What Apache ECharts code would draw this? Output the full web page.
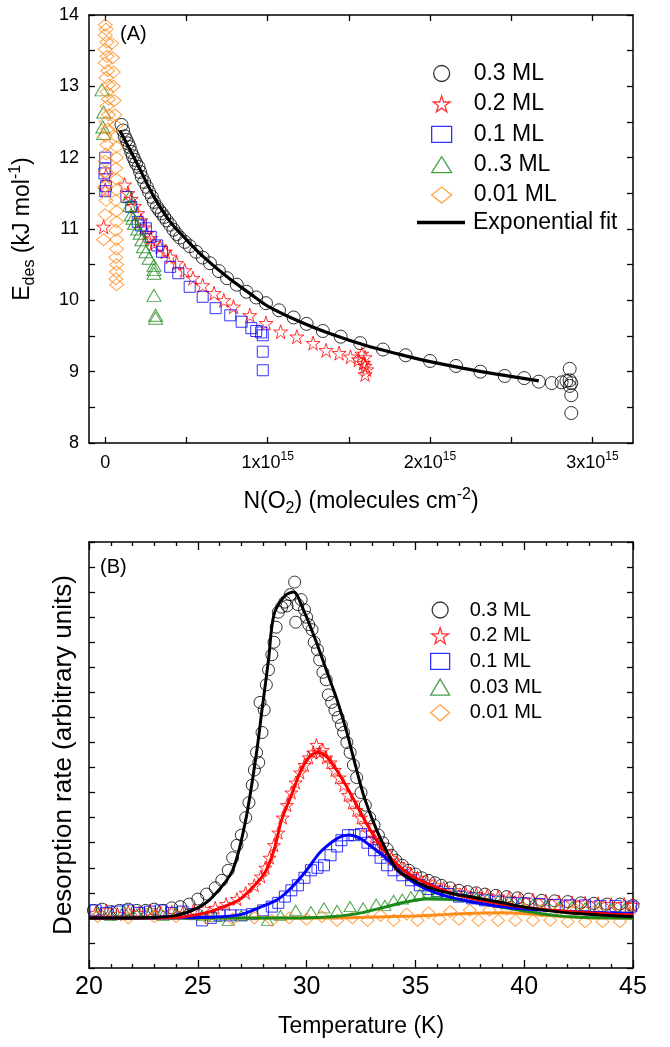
<!DOCTYPE html>
<html>
<head>
<meta charset="utf-8">
<script src="https://cdn.jsdelivr.net/npm/echarts@6/dist/echarts.min.js"></script>
<style>
html,body{margin:0;padding:0;background:#fff;}
#chart{width:670px;height:1047px;}
</style>
</head>
<body>
<div id="chart"></div>
<script>
// ---------- Panel A data: [N(O2) in units of 1e15, Edes kJ/mol] ----------
const a_03 = [[0.10,12.46],[0.11,12.38],[0.12,12.3],[0.13,12.25],[0.14,12.2],[0.15,12.15],[0.16,12.08],[0.17,12.02],[0.18,11.97],[0.19,11.92],[0.205,11.87],[0.215,11.8],[0.225,11.73],[0.24,11.66],[0.256,11.59],[0.27,11.52],[0.287,11.45],[0.30,11.38],[0.318,11.31],[0.333,11.26],[0.348,11.22],[0.363,11.17],[0.379,11.12],[0.40,11.06],[0.42,10.99],[0.44,10.93],[0.46,10.88],[0.49,10.82],[0.52,10.76],[0.56,10.68],[0.60,10.6],[0.645,10.52],[0.70,10.41],[0.75,10.31],[0.81,10.22],[0.87,10.12],[0.93,10.04],[0.99,9.96],[1.07,9.86],[1.16,9.76],[1.24,9.67],[1.34,9.57],[1.45,9.49],[1.57,9.40],[1.71,9.31],[1.85,9.23],[2.0,9.15],[2.16,9.08],[2.31,9.0],[2.46,8.94],[2.58,8.91],[2.67,8.86],[2.75,8.84],[2.81,8.85],[2.84,8.87],[2.86,9.04],[2.86,8.88],[2.87,8.84],[2.86,8.80],[2.87,8.67],[2.87,8.42]];
const a_02 = [[-0.01,11.03],[0.0,11.55],[0.005,11.75],[0.12,11.62],[0.14,11.5],[0.16,11.42],[0.18,11.32],[0.2,11.22],[0.22,11.12],[0.24,11.02],[0.256,10.94],[0.28,10.87],[0.30,10.8],[0.338,10.75],[0.37,10.68],[0.40,10.61],[0.44,10.52],[0.49,10.42],[0.54,10.31],[0.60,10.21],[0.67,10.10],[0.73,10.0],[0.79,9.91],[0.89,9.79],[0.99,9.68],[1.08,9.56],[1.18,9.49],[1.28,9.40],[1.36,9.30],[1.44,9.26],[1.51,9.21],[1.56,9.17],[1.58,9.25],[1.59,9.12],[1.60,9.2],[1.60,9.08],[1.61,9.03],[1.60,8.96]];
const a_01 = [[0.0,12.0],[0.0,11.85],[-0.005,11.78],[0.0,11.53],[0.005,11.6],[0.13,11.45],[0.16,11.31],[0.2,11.1],[0.22,11.05],[0.25,11.01],[0.28,10.89],[0.32,10.77],[0.35,10.68],[0.40,10.47],[0.45,10.38],[0.52,10.19],[0.60,10.05],[0.68,9.89],[0.77,9.79],[0.84,9.70],[0.90,9.61],[0.93,9.57],[0.96,9.55],[0.97,9.51],[0.97,9.28],[0.97,9.02]];
const a_003 = [[-0.02,12.95],[-0.01,12.64],[-0.015,12.43],[-0.01,12.34],[0.15,11.45],[0.15,11.33],[0.16,11.2],[0.17,11.15],[0.18,11.08],[0.2,11.0],[0.215,10.94],[0.225,10.85],[0.235,10.75],[0.25,10.68],[0.27,10.59],[0.30,10.49],[0.30,10.43],[0.30,10.38],[0.30,10.07],[0.31,9.79],[0.31,9.75]];
const a_001 = [[0.0,13.86],[0.005,13.8],[0.0,13.72],[0.01,13.62],[0.0,13.52],[0.01,13.42],[0.0,13.33],[0.015,13.22],[0.005,13.12],[0.02,13.02],[0.01,12.92],[0.02,12.82],[0.01,12.72],[0.02,12.6],[0.005,12.5],[0.015,12.4],[0.0,12.3],[0.01,12.18],[0.005,12.05],[0.0,11.95],[0.0,11.8],[0.0,11.6],[0.005,11.4],[0.0,11.2],[-0.01,10.85],[0.04,13.6],[0.045,13.4],[0.05,13.2],[0.05,13.0],[0.055,12.8],[0.06,12.6],[0.065,12.45],[0.07,12.3],[0.07,12.15],[0.07,12.0],[0.065,11.85],[0.07,11.7],[0.07,11.55],[0.065,11.4],[0.07,11.25],[0.07,11.1],[0.065,10.98],[0.07,10.85],[0.07,10.72],[0.065,10.6],[0.07,10.5],[0.07,10.4],[0.065,10.3],[0.07,10.22]];
const a_fit = [[0.09,12.38],[0.15,12.12],[0.2,11.9],[0.3,11.45],[0.4,11.1],[0.5,10.85],[0.6,10.62],[0.75,10.33],[0.9,10.08],[1.0,9.92],[1.2,9.70],[1.4,9.52],[1.6,9.37],[1.8,9.25],[2.0,9.14],[2.2,9.05],[2.4,8.97],[2.67,8.87]];
const aXTicks = [0,1,2,3];
const aXMinor = [0,0.5,1,1.5,2,2.5,3];

// ---------- Panel B data: [Temperature K, desorption rate (arb.)] ----------
const b_03 = [[20.2,0.3],[20.6,0.35],[21.0,0.25],[21.4,0.3],[21.8,0.35],[22.2,0.3],[22.6,0.3],[23.0,0.35],[23.4,0.3],[23.8,0.4],[24.2,0.45],[24.6,0.55],[25.0,0.75],[25.4,0.95],[25.8,1.2],[26.1,1.5],[26.4,1.9],[26.6,2.4],[26.8,2.9],[27.0,3.3],[27.2,4.0],[27.35,4.6],[27.5,5.3],[27.6,5.9],[27.7,6.6],[27.8,6.2],[27.86,8.6],[27.95,7.4],[28.05,8.3],[28.15,9.3],[28.25,9.9],[28.4,10.5],[28.5,11.0],[28.6,11.6],[28.7,12.2],[28.85,12.4],[29.0,12.6],[29.1,12.45],[29.25,12.9],[29.45,13.4],[29.5,11.8],[29.6,12.5],[29.75,12.7],[29.9,12.3],[30.0,12.0],[30.1,11.7],[30.25,11.5],[30.35,11.0],[30.5,10.7],[30.6,10.3],[30.75,9.8],[30.9,9.5],[31.0,8.9],[31.15,8.6],[31.3,8.3],[31.45,8.0],[31.6,7.7],[31.7,7.4],[31.85,7.0],[32.0,6.6],[32.15,6.1],[32.3,5.6],[32.5,5.0],[32.7,4.5],[32.9,4.0],[33.1,3.7],[33.3,3.3],[33.5,3.0],[33.7,2.75],[33.9,2.5],[34.1,2.3],[34.4,2.1],[34.7,1.9],[35.0,1.75],[35.3,1.6],[35.6,1.5],[35.9,1.4],[36.2,1.3],[36.6,1.2],[37.0,1.1],[37.4,1.05],[37.8,1.0],[38.2,0.95],[38.7,0.9],[39.2,0.85],[39.7,0.8],[40.2,0.75],[40.8,0.7],[41.4,0.68],[42.0,0.65],[42.6,0.6],[43.2,0.58],[43.8,0.55],[44.4,0.55],[45.0,0.5]];
const b_02 = [[20.3,0.2],[20.8,0.3],[21.3,0.15],[21.8,0.25],[22.3,0.2],[22.8,0.3],[23.3,0.2],[23.8,0.25],[24.3,0.2],[24.8,0.3],[25.3,0.35],[25.8,0.4],[26.3,0.55],[26.8,0.75],[27.2,1.0],[27.6,1.3],[27.9,1.65],[28.1,2.0],[28.3,2.4],[28.5,2.9],[28.7,3.4],[28.9,4.0],[29.1,4.5],[29.3,5.0],[29.5,5.4],[29.7,5.8],[29.9,6.1],[30.1,6.4],[30.3,6.6],[30.45,6.9],[30.6,6.6],[30.75,6.7],[30.9,6.4],[31.1,6.2],[31.3,5.9],[31.5,5.6],[31.7,5.3],[31.9,4.9],[32.1,4.6],[32.3,4.3],[32.5,4.0],[32.7,3.7],[32.9,3.4],[33.1,3.2],[33.3,2.95],[33.6,2.65],[33.9,2.4],[34.2,2.15],[34.5,1.95],[34.8,1.75],[35.1,1.6],[35.5,1.45],[35.9,1.3],[36.3,1.2],[36.8,1.1],[37.3,1.0],[37.8,0.95],[38.3,0.9],[38.8,0.85],[39.3,0.8],[39.8,0.75],[40.4,0.72],[41.0,0.68],[41.6,0.65],[42.2,0.62],[42.8,0.6],[43.4,0.58],[44.0,0.55],[44.6,0.55],[45.0,0.52]];
const b_01 = [[20.3,0.3],[20.8,0.2],[21.3,0.25],[21.8,0.3],[22.3,0.2],[22.8,0.25],[23.3,0.3],[23.8,0.2],[24.3,0.25],[24.8,0.15],[25.2,-0.1],[25.6,0.0],[26.0,0.1],[26.5,0.1],[27.0,0.1],[27.5,0.15],[28.0,0.3],[28.4,0.45],[28.7,0.6],[29.0,0.85],[29.3,1.1],[29.6,1.3],[29.9,1.6],[30.2,1.9],[30.5,2.0],[30.8,2.1],[31.1,2.5],[31.4,2.85],[31.6,3.1],[31.9,3.3],[32.2,3.3],[32.5,3.35],[32.8,3.0],[33.1,2.7],[33.4,2.4],[33.7,2.1],[34.0,1.9],[34.4,1.7],[34.8,1.5],[35.2,1.3],[35.6,1.15],[36.0,1.05],[36.5,0.95],[37.0,0.85],[37.6,0.78],[38.2,0.7],[38.8,0.65],[39.4,0.6],[40.0,0.58],[40.7,0.55],[41.4,0.52],[42.1,0.5],[42.8,0.5],[43.5,0.48],[44.2,0.47],[44.9,0.45]];
const b_003 = [[20.4,0.2],[21.0,0.1],[21.6,0.3],[22.2,0.15],[22.8,0.25],[23.4,0.1],[24.0,0.2],[24.6,0.15],[25.2,0.1],[25.8,0.05],[26.4,-0.1],[27.0,0.1],[27.6,0.2],[28.2,-0.1],[28.8,0.1],[29.5,0.3],[30.2,0.25],[30.8,0.4],[31.4,0.3],[32.0,0.45],[32.6,0.4],[33.2,0.55],[33.6,0.5],[34.0,0.7],[34.4,0.75],[34.8,0.85],[35.2,0.95],[35.6,1.0],[36.0,1.05],[36.4,0.95],[36.8,0.95],[37.3,0.85],[37.8,0.8],[38.3,0.75],[38.8,0.7],[39.3,0.65],[39.8,0.6],[40.4,0.55],[41.0,0.5],[41.6,0.45],[42.2,0.45],[42.8,0.4],[43.4,0.4],[44.0,0.38],[44.6,0.36]];
const b_001 = [[20.4,0.05],[21.8,0.0],[23.0,0.05],[24.0,0.05],[25.4,0.0],[26.6,-0.05],[27.6,0.0],[28.4,-0.1],[29.2,0.0],[30.0,-0.05],[30.7,0.05],[31.4,-0.1],[32.1,0.0],[32.8,-0.1],[33.4,0.1],[34.0,-0.1],[34.6,0.15],[35.1,-0.1],[35.6,0.2],[36.1,-0.05],[36.6,0.25],[37.0,-0.05],[37.5,0.3],[37.9,-0.1],[38.4,0.3],[38.8,-0.1],[39.2,0.35],[39.6,-0.1],[40.0,0.35],[40.4,-0.1],[40.8,0.3],[41.2,-0.1],[41.6,0.3],[42.0,-0.15],[42.4,0.3],[42.8,-0.15],[43.2,0.25],[43.6,-0.15],[44.0,0.25],[44.4,-0.15],[44.8,0.2]];
const bf_03 = [[20,0],[23,0.02],[24,0.1],[25,0.4],[25.7,0.85],[26.6,1.9],[27.2,3.9],[27.7,6.6],[27.95,8.3],[28.25,10.3],[28.5,12.1],[29.0,12.85],[29.4,13.0],[29.85,12.3],[30.45,11.0],[30.9,9.9],[31.4,8.7],[31.85,7.4],[32.15,6.4],[32.6,4.95],[33.15,3.65],[33.6,2.8],[34.15,1.92],[34.8,1.55],[35.5,1.25],[36.5,1.0],[37.5,0.85],[39,0.6],[40,0.43],[41,0.3],[42,0.2],[43.4,0.12],[45,0.05]];
const bf_02 = [[20,0],[24,0.02],[25.3,0.19],[26.2,0.45],[26.9,0.72],[27.5,1.2],[28.07,1.78],[28.5,2.7],[28.85,3.9],[29.3,4.9],[29.7,5.8],[30.1,6.4],[30.5,6.6],[30.9,6.45],[31.3,6.0],[31.8,5.3],[32.3,4.5],[32.8,3.7],[33.3,3.0],[33.8,2.45],[34.4,1.95],[35,1.6],[36,1.2],[37,0.9],[38,0.7],[39,0.55],[40,0.42],[41,0.32],[42,0.25],[43,0.2],[44,0.15],[45,0.12]];
const bf_01 = [[20,0],[25.5,0.03],[26.9,0.12],[27.8,0.4],[28.65,0.72],[29.3,1.2],[30.02,1.92],[30.6,2.6],[31.2,3.05],[31.6,3.25],[31.98,3.31],[32.4,3.2],[32.9,2.9],[33.55,2.45],[34.1,2.0],[34.73,1.52],[35.5,1.15],[36.5,0.85],[37.5,0.65],[38.5,0.5],[39.44,0.39],[41,0.3],[43,0.22],[45,0.17]];
const bf_003 = [[20,0],[29,0.0],[30.5,0.02],[31.6,0.08],[32.5,0.2],[33.55,0.42],[34.5,0.62],[35.5,0.75],[36.5,0.74],[37.5,0.65],[38.5,0.5],[39.4,0.36],[40.4,0.22],[41.4,0.1],[42.5,0.03],[45,0]];
const bf_001 = [[20,0],[31,0],[33,0.03],[35,0.08],[36.5,0.14],[38,0.19],[39,0.2],[40,0.17],[41,0.1],[42,0.04],[43,0],[45,0]];

const legendA = ['0.3 ML','0.2 ML','0.1 ML','0..3 ML','0.01 ML'];
const legendB = ['0.3 ML','0.2 ML','0.1 ML','0.03 ML','0.01 ML'];

// ---------- styling ----------
const FONT = 'Liberation Sans, Arial, sans-serif';
const C = {k:'#000000', r:'#ff0000', b:'#0000ff', g:'#1a8a1a', o:'#ff8c1a'};
const STAR = 'path://M50,2 L61.2,36.4 L97.6,36.4 L68.2,57.6 L79.4,92 L50,70.8 L20.6,92 L31.8,57.6 L2.4,36.4 L38.8,36.4 Z';
const lineAx = {onZero:false, lineStyle:{color:'#000', width:1.5}};
function richOf(fs){
  return {
    a:{fontSize:fs, lineHeight:30, fontFamily:FONT, color:'#000'},
    sub:{fontSize:Math.round(fs*0.68), lineHeight:14, verticalAlign:'bottom', fontFamily:FONT, color:'#000'},
    sup:{fontSize:Math.round(fs*0.68), lineHeight:14, verticalAlign:'top', fontFamily:FONT, color:'#000'}
  };
}

function sc(name, data, symbol, size, color, xi, yi){
  return {type:'scatter', name, data, symbol, symbolSize:size, xAxisIndex:xi, yAxisIndex:yi,
    itemStyle:{color:'rgba(0,0,0,0)', borderColor:color, borderWidth:1}, z:2, silent:true};
}
function fl(name, data, color, xi, yi, w){
  return {type:'line', name, data, symbol:'none', showSymbol:false, smooth:0.3, xAxisIndex:xi, yAxisIndex:yi,
    lineStyle:{color, width:w}, itemStyle:{color}, z:3, silent:true};
}

const chart = echarts.init(document.getElementById('chart'), null, {renderer:'canvas'});
chart.setOption({
  animation:false,
  backgroundColor:'#fff',
  textStyle:{fontFamily:FONT, color:'#000'},
  title:[
    {text:'(A)', left:120, top:24, padding:0, textStyle:{fontSize:20, fontWeight:'normal', fontFamily:FONT, color:'#000'}},
    {text:'(B)', left:100, top:557, padding:0, textStyle:{fontSize:20, fontWeight:'normal', fontFamily:FONT, color:'#000'}}
  ],
  grid:[
    {left:89, right:37, top:15, height:428},
    {left:89, right:37, top:542, height:426}
  ],
  legend:[
    {data:legendA, orient:'vertical', left:431, top:62, padding:0, itemWidth:20, itemHeight:16, itemGap:7.4,
     selectedMode:false, itemStyle:{borderWidth:1.3},
     textStyle:{fontSize:23, lineHeight:20, fontFamily:FONT, color:'#000', padding:[0,0,0,17]}},
    {data:[{name:'Exponential fit', icon:'rect', itemStyle:{color:'#000', borderWidth:0}}], orient:'vertical', left:417, top:211, padding:0, itemWidth:48, itemHeight:3.5,
     selectedMode:false,
     textStyle:{fontSize:23, lineHeight:20, fontFamily:FONT, color:'#000', padding:[0,0,0,3]}},
    {data:legendB, orient:'vertical', left:430, top:600, padding:0, itemWidth:19, itemHeight:16, itemGap:5.7,
     selectedMode:false, itemStyle:{borderWidth:1.3},
     textStyle:{fontSize:20, lineHeight:18, fontFamily:FONT, color:'#000', padding:[0,0,0,15]}}
  ],
  xAxis:[
    {gridIndex:0, type:'value', position:'bottom', min:-0.1, max:3.25,
     axisLine:lineAx, splitLine:{show:false},
     axisTick:{inside:true, length:6, lineStyle:{width:1.3}, customValues:aXMinor},
     axisLabel:{customValues:aXTicks, margin:8, color:'#000',
       formatter:v => v === 0 ? '{a|0}' : '{a|' + v + 'x10}{s|15}',
       rich:{a:{fontSize:18, lineHeight:24, fontFamily:FONT, color:'#000'}, s:{fontSize:12, lineHeight:12, verticalAlign:'top', fontFamily:FONT, color:'#000'}}},
     name:'{a|N(O}{sub|2}{a|) (molecules cm}{sup|-2}{a|)}', nameLocation:'middle', nameGap:44,
     nameTextStyle:{rich:richOf(23)}},
    {gridIndex:0, type:'value', position:'top', min:-0.1, max:3.25,
     axisLine:lineAx, splitLine:{show:false},
     axisTick:{inside:true, length:6, lineStyle:{width:1.3}, customValues:aXMinor},
     axisLabel:{show:false}},
    {gridIndex:1, type:'value', position:'bottom', min:20, max:45, interval:5,
     axisLine:lineAx, splitLine:{show:false},
     axisTick:{inside:true, length:8, lineStyle:{width:1.3}},
     minorTick:{show:true, splitNumber:5, length:4, lineStyle:{color:'#000', width:1.3}},
     axisLabel:{fontSize:25, margin:7, color:'#000', fontFamily:FONT},
     name:'Temperature (K)', nameLocation:'middle', nameGap:47,
     nameTextStyle:{fontSize:23, fontFamily:FONT, color:'#000'}},
    {gridIndex:1, type:'value', position:'top', min:20, max:45, interval:5,
     axisLine:lineAx, splitLine:{show:false},
     axisTick:{inside:true, length:8, lineStyle:{width:1.3}},
     minorTick:{show:true, splitNumber:5, length:4, lineStyle:{color:'#000', width:1.3}},
     axisLabel:{show:false}}
  ],
  yAxis:[
    {gridIndex:0, type:'value', position:'left', min:8, max:14, interval:0.5,
     axisLine:lineAx, splitLine:{show:false},
     axisTick:{inside:true, length:6, lineStyle:{width:1.3}},
     axisLabel:{fontSize:18, margin:10, color:'#000', fontFamily:FONT,
       formatter:v => Number.isInteger(v) ? String(v) : ''},
     name:'{a|E}{sub|des}{a| (kJ mol}{sup|-1}{a|)}', nameLocation:'middle', nameGap:51,
     nameTextStyle:{rich:richOf(23)}},
    {gridIndex:0, type:'value', position:'right', min:8, max:14, interval:0.5,
     axisLine:lineAx, splitLine:{show:false},
     axisTick:{inside:true, length:6, lineStyle:{width:1.3}},
     axisLabel:{show:false}},
    {gridIndex:1, type:'value', position:'left', min:-2, max:15, interval:1,
     axisLine:lineAx, splitLine:{show:false},
     axisTick:{inside:true, length:6, lineStyle:{width:1.3}},
     axisLabel:{show:false},
     name:'Desorption rate (arbitrary units)', nameLocation:'middle', nameGap:12,
     nameTextStyle:{fontSize:26, fontFamily:FONT, color:'#000'}},
    {gridIndex:1, type:'value', position:'right', min:-2, max:15, interval:1,
     axisLine:lineAx, splitLine:{show:false},
     axisTick:{inside:true, length:6, lineStyle:{width:1.3}},
     axisLabel:{show:false}}
  ],
  series:[
    sc('0.3 ML', a_03, 'circle', 13, C.k, 0, 0),
    sc('0.2 ML', a_02, STAR, 14, C.r, 0, 0),
    sc('0.1 ML', a_01, 'rect', 11, C.b, 0, 0),
    sc('0..3 ML', a_003, 'triangle', [14,12], C.g, 0, 0),
    sc('0.01 ML', a_001, 'diamond', [14,12], C.o, 0, 0),
    fl('Exponential fit', a_fit, C.k, 0, 0, 3.2),

    sc('0.3 ML', b_03, 'circle', 12, C.k, 2, 2),
    sc('0.2 ML', b_02, STAR, 13, C.r, 2, 2),
    sc('0.1 ML', b_01, 'rect', 11, C.b, 2, 2),
    sc('0.03 ML', b_003, 'triangle', [12,10], C.g, 2, 2),
    sc('0.01 ML', b_001, 'diamond', [13,12], C.o, 2, 2),
    fl('fit 0.01 ML', bf_001, C.o, 2, 2, 3),
    fl('fit 0.03 ML', bf_003, C.g, 2, 2, 3),
    fl('fit 0.1 ML', bf_01, C.b, 2, 2, 3),
    fl('fit 0.2 ML', bf_02, C.r, 2, 2, 3),
    fl('fit 0.3 ML', bf_03, C.k, 2, 2, 3)
  ]
});
</script>
</body>
</html>
